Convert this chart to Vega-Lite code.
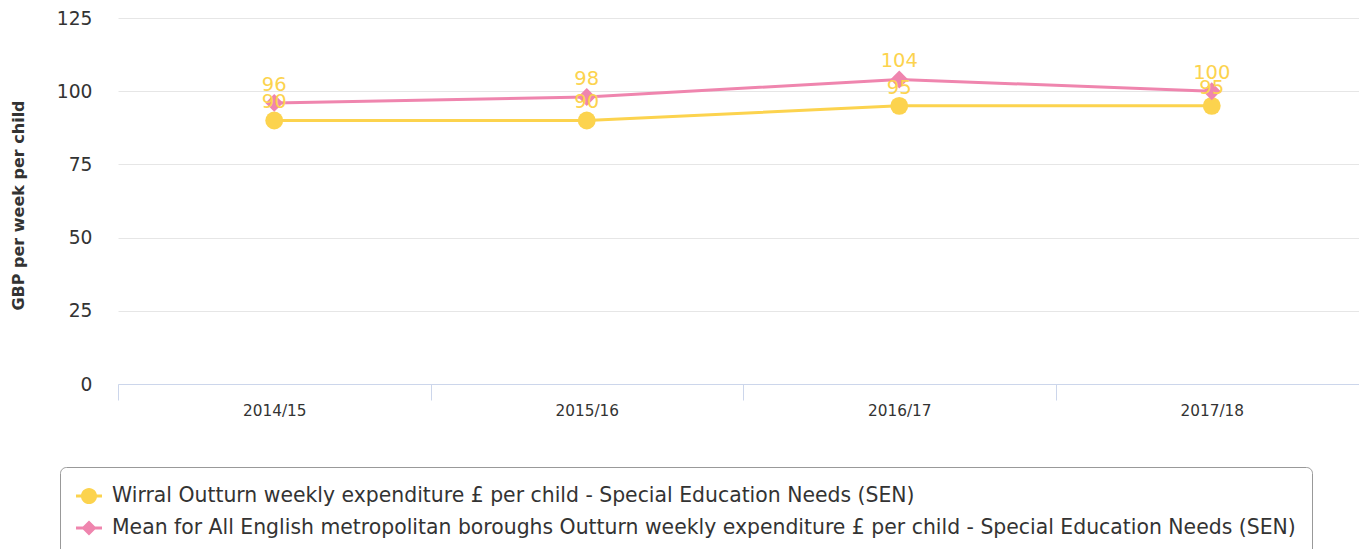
{
  "$schema": "https://vega.github.io/schema/vega-lite/v6.json",
  "width": 1240,
  "height": 366,
  "autosize": {"type": "none"},
  "padding": {"left": 118, "top": 18, "right": 1, "bottom": 165},
  "config": {"font": "DejaVu Sans", "view": {"stroke": null}},
  "data": {
    "values": [
      {"year": "2014/15", "series": "Wirral Outturn weekly expenditure £ per child - Special Education Needs (SEN)", "value": 90},
      {"year": "2015/16", "series": "Wirral Outturn weekly expenditure £ per child - Special Education Needs (SEN)", "value": 90},
      {"year": "2016/17", "series": "Wirral Outturn weekly expenditure £ per child - Special Education Needs (SEN)", "value": 95},
      {"year": "2017/18", "series": "Wirral Outturn weekly expenditure £ per child - Special Education Needs (SEN)", "value": 95},
      {"year": "2014/15", "series": "Mean for All English metropolitan boroughs Outturn weekly expenditure £ per child - Special Education Needs (SEN)", "value": 96},
      {"year": "2015/16", "series": "Mean for All English metropolitan boroughs Outturn weekly expenditure £ per child - Special Education Needs (SEN)", "value": 98},
      {"year": "2016/17", "series": "Mean for All English metropolitan boroughs Outturn weekly expenditure £ per child - Special Education Needs (SEN)", "value": 104},
      {"year": "2017/18", "series": "Mean for All English metropolitan boroughs Outturn weekly expenditure £ per child - Special Education Needs (SEN)", "value": 100}
    ]
  },
  "encoding": {
    "x": {
      "field": "year",
      "type": "ordinal",
      "sort": null,
      "scale": {"type": "band", "paddingInner": 0, "paddingOuter": 0, "range": [0, 1250]},
      "axis": {
        "title": null,
        "labelAngle": 0,
        "labelFontSize": 15.3,
        "labelColor": "#333333",
        "domainColor": "#ccd6eb",
        "tickColor": "#ccd6eb",
        "tickSize": 16,
        "tickBand": "extent",
        "labelPadding": 3,
        "grid": false
      }
    },
    "y": {
      "field": "value",
      "type": "quantitative",
      "scale": {"domain": [0, 125], "nice": false, "zero": true},
      "axis": {
        "title": "GBP per week per child",
        "titleFontSize": 16,
        "titleFontWeight": "bold",
        "titleColor": "#333333",
        "titleX": -100,
        "titleY": 187,
        "titleAngle": -90,
        "titleAlign": "center",
        "titleBaseline": "middle",
        "values": [0, 25, 50, 75, 100, 125],
        "labelFontSize": 18.7,
        "labelColor": "#333333",
        "labelPadding": 26,
        "ticks": false,
        "tickSize": 0,
        "domain": false,
        "grid": true,
        "gridColor": "#e6e6e6"
      }
    },
    "color": {
      "field": "series",
      "type": "nominal",
      "sort": null,
      "scale": {
        "domain": [
          "Wirral Outturn weekly expenditure £ per child - Special Education Needs (SEN)",
          "Mean for All English metropolitan boroughs Outturn weekly expenditure £ per child - Special Education Needs (SEN)"
        ],
        "range": ["#fcd34e", "#ef85ae"]
      },
      "legend": {
        "title": null,
        "orient": "none",
        "legendX": -58,
        "legendY": 449,
        "direction": "vertical",
        "strokeColor": "#999999",
        "cornerRadius": 6,
        "padding": 16,
        "symbolSize": 676,
        "labelFontSize": 20.4,
        "labelColor": "#333333",
        "labelLimit": 2000,
        "rowPadding": 8,
        "labelOffset": 10,
        "encode": {
          "symbols": {
            "update": {
              "shape": {"signal": "datum.index === 0 ? 'M-1,-0.115H1V0.115H-1Z M0.62,0A0.62,0.62 0 1 1 -0.62,0A0.62,0.62 0 1 1 0.62,0Z' : 'M-1,-0.115H1V0.115H-1Z M0,-0.58L0.58,0L0,0.58L-0.58,0Z'"},
              "fill": {"signal": "scale('color', datum.value)"},
              "strokeWidth": {"value": 0},
              "opacity": {"value": 1},
              "fillOpacity": {"value": 1}
            }
          }
        }
      }
    }
  },
  "layer": [
    {"mark": {"type": "line", "strokeWidth": 3}},
    {
      "mark": {"type": "point", "filled": true, "opacity": 1, "size": 320},
      "encoding": {
        "shape": {
          "field": "series",
          "type": "nominal",
          "sort": null,
          "scale": {"range": ["circle", "diamond"]},
          "legend": null
        }
      }
    },
    {
      "mark": {"type": "text", "dy": -18, "fontSize": 19.5},
      "encoding": {
        "text": {"field": "value", "type": "quantitative"},
        "color": {"value": "#fcd34e"}
      }
    }
  ]
}
